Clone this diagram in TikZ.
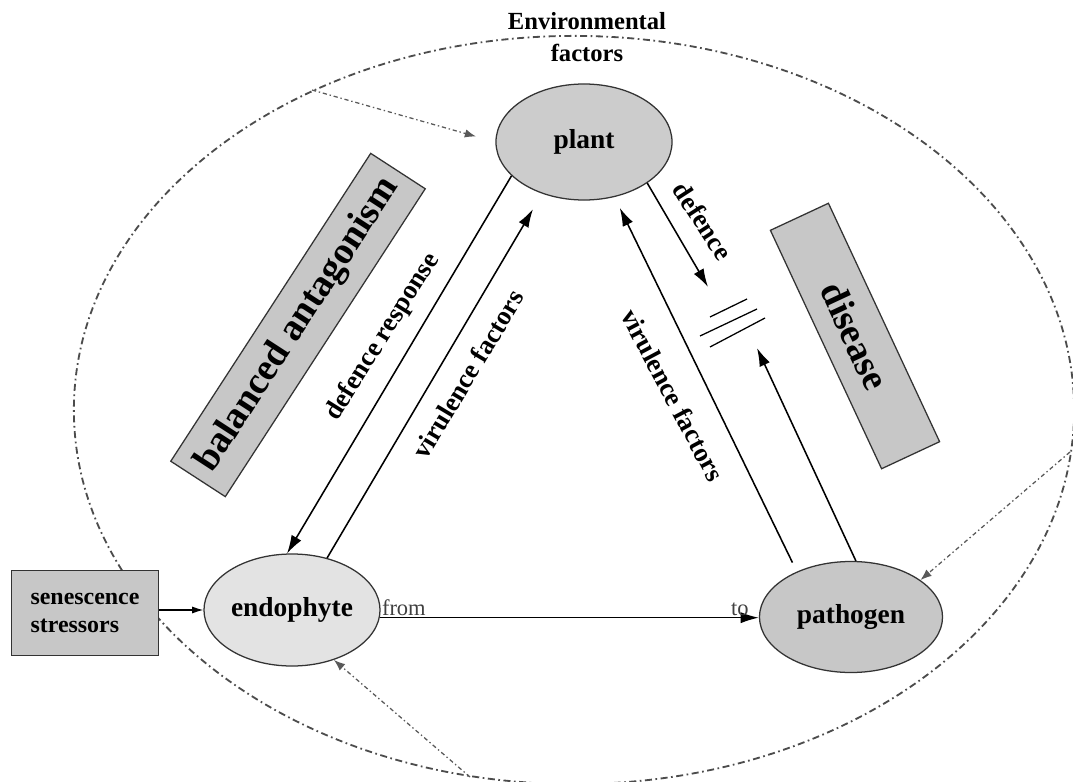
\documentclass[tikz,border=0pt]{standalone}
\usepackage{fontspec}
\setmainfont{Liberation Serif}
\usetikzlibrary{shapes.geometric,arrows.meta}

\begin{document}
\begin{tikzpicture}[x=0.025cm, y=-0.025cm,
    organism/.style={ellipse, draw=black!80, line width=0.9pt, inner sep=0pt, font=\fontsize{19.5}{22}\selectfont\bfseries},
    greybox/.style={rectangle, draw=black!80, line width=0.9pt, fill=black!22},
    banner/.style={greybox, font=\fontsize{27}{30}\selectfont\bfseries},
    arrowlabel/.style={font=\fontsize{19}{22}\selectfont\bfseries, inner sep=0pt},
    flow/.style={line width=1.1pt, -{Latex[length=13pt,width=8pt]}},
    envline/.style={draw=black!70, line width=1.3pt, dash pattern=on 5pt off 2.5pt on 1.2pt off 2.5pt},
    envarrow/.style={draw=black!65, line width=0.9pt, dash pattern=on 3pt off 2pt on 1pt off 2pt, -{Latex[length=8pt,width=6pt]}}]
  \useasboundingbox (0,0) rectangle (1073,782);
  % Environment
  \draw[envline] (574,410) ellipse [x radius=12.5cm, y radius=9.35cm];
  \node[align=center, font=\fontsize{17.5}{22.5}\selectfont\bfseries] (env) at (587,37) {Environmental\\factors};
  \coordinate (envtl) at (312,90);
  \coordinate (envtr) at (1070,452);
  \coordinate (envb) at (470,777);
  % Nodes
  \node[organism, fill=black!20, minimum width=4.4cm, minimum height=2.9cm] (plant) at (584,142) {plant};
  \node[organism, fill=black!11, minimum width=4.4cm, minimum height=2.8cm] (endo) at (292,610) {endophyte};
  \node[organism, fill=black!22, minimum width=4.575cm, minimum height=2.775cm] (path) at (851,617) {pathogen};
  \node[greybox, minimum width=3.675cm, minimum height=2.125cm, align=left, font=\fontsize{17}{20}\selectfont\bfseries] (sen) at (85,613) {senescence\\stressors};
  \node[banner, rotate=57, minimum width=9.175cm, minimum height=1.625cm] (balance) at (298,325) {balanced antagonism};
  \node[banner, rotate=-65, minimum width=6.575cm, minimum height=1.6cm] (disease) at (855,336) {disease};
  % Blocked defence
  \coordinate (blk) at (731,324);
  \coordinate (blkout) at (708,287);
  \coordinate (blkin) at (757,348);
  \foreach \a/\b/\c/\d in {-21/-7/16/-25, -31/12/26/-15, -21/23/34/-6} {
    \draw[line width=0.9pt] ([shift={(\a,\b)}]blk) -- ([shift={(\c,\d)}]blk);
  }
  % Edges
  \draw[flow] (plant.205) -- (endo.95);
  \draw[flow, shorten >=0.45cm] (endo.56) -- (plant.231);
  \draw[flow, shorten <=0.25cm, shorten >=0.3cm] (path.140) -- (plant.299);
  \draw[flow] (plant.-33) -- (blkout);
  \draw[flow] (path.85) -- (blkin);
  \draw[line width=0.8pt, -{Latex[length=8pt,width=5pt]}] (endo.west -| sen.east) -- (endo.west);
  \draw[flow] (endo.-5) -- (path.west |- endo.-5)
    node[pos=0, anchor=south west, inner sep=1pt, text=black!75, font=\fontsize{16}{18}\selectfont] (from) {from}
    node[pos=1, anchor=south east, inner sep=1pt, xshift=-0.2cm, text=black!75, font=\fontsize{16}{18}\selectfont] (to) {to};
  \draw[envarrow, shorten >=0.5cm] (envtl) -- (plant.west);
  \draw[envarrow] (envtr) -- (path.28);
  \draw[envarrow] (envb) -- (endo.-50);
  % Labels
  \node[arrowlabel, rotate=58] (dres) at (383,337) {defence response};
  \node[arrowlabel, rotate=59] (vfl) at (468,374) {virulence factors};
  \node[arrowlabel, rotate=-62] (vfr) at (673,395) {virulence factors};
  \node[arrowlabel, rotate=-57] (def) at (703,221) {defence};
\end{tikzpicture}
\end{document}
